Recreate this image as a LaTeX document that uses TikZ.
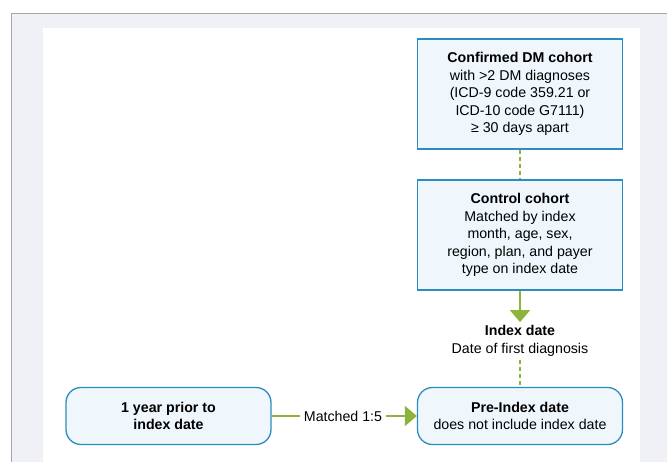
\documentclass[tikz,border=0pt]{standalone}
\usepackage{fontspec}
\setmainfont{Liberation Sans}
\usetikzlibrary{positioning,arrows.meta}

\definecolor{boxblue}{HTML}{2C8CC0}
\definecolor{boxfill}{HTML}{EFF7FC}
\definecolor{linkgreen}{HTML}{8DB33A}
\definecolor{panelgray}{HTML}{F0F1F6}

\tikzset{
  cohortbox/.style={draw=boxblue, fill=boxfill, line width=1.3pt, minimum width=205pt, minimum height=110pt, align=center, inner sep=2pt},
  periodbox/.style={cohortbox, rounded corners=15pt, minimum height=57pt},
  dashlink/.style={draw=linkgreen, line width=1.8pt, dash pattern=on 4pt off 3pt},
  flowlink/.style={draw=linkgreen, line width=1.8pt, -{Triangle[width=20pt,length=12pt]}}
}

\begin{document}
\begin{tikzpicture}[x=1pt,y=-1pt,font=\fontsize{14.2}{17.5}\selectfont]
        \useasboundingbox (0,0) rectangle (667,462);
        % page frame
        \fill[panelgray] (11,14) rectangle (667,462);
        \draw[gray!70, line width=1pt] (11,462) -- (11,14) -- (667,14);
        \fill[white] (43,28) rectangle (640,462);

        \node[cohortbox] (dm) at (520,94) {\textbf{Confirmed DM cohort}\\with >2 DM diagnoses\\(ICD-9 code 359.21 or\\ICD-10 code G7111)\\≥ 30 days apart};
        \node[cohortbox] (control) at (520,235) {\textbf{Control cohort}\\Matched by index\\month, age, sex,\\region, plan, and payer\\type on index date};
        \node[align=center] (index) at (520,341) {\textbf{Index date}\\Date of first diagnosis};
        \node[periodbox] (pre) at (520,416) {\textbf{Pre-Index date}\\does not include index date};
        \node[periodbox] (prior) at (168.5,416) {\textbf{1 year prior to}\\\textbf{index date}};
        \node[inner sep=4pt] (match) at (343,416) {Matched 1:5};

        \draw[dashlink] (dm) -- (control);
        \draw[flowlink] (control) -- (index);
        \draw[dashlink] (index) -- (pre);
        \draw[draw=linkgreen, line width=1.8pt] (prior) -- (match);
        \draw[flowlink] (match) -- (pre);
    \end{tikzpicture}
\end{document}
